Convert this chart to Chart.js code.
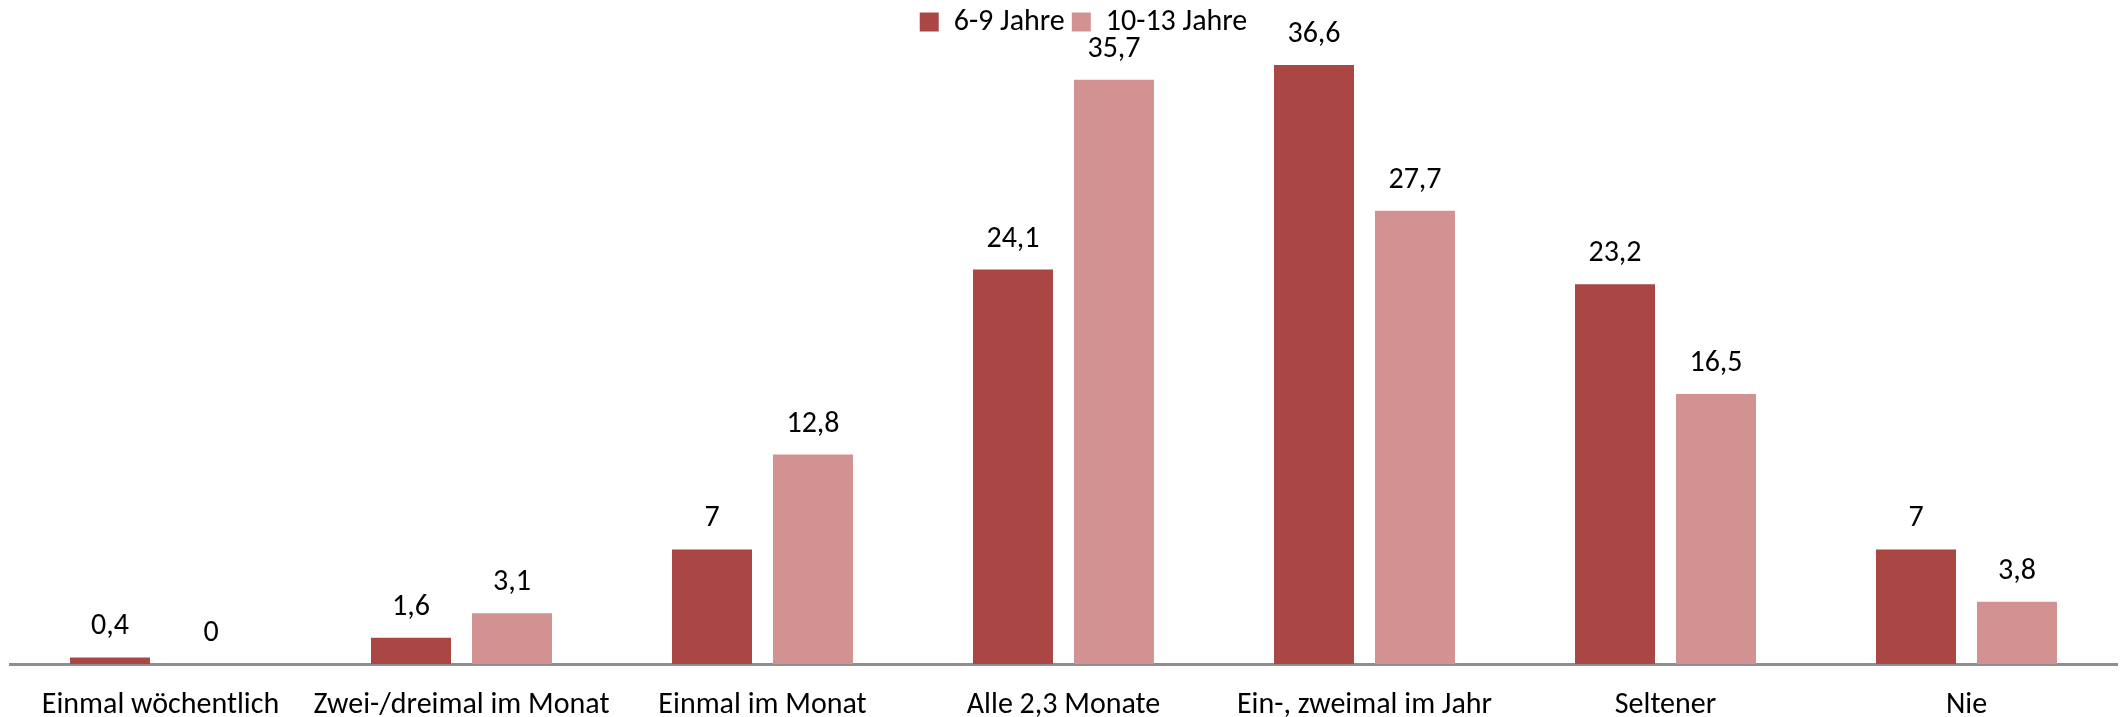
<!DOCTYPE html>
<html>
<head>
<meta charset="utf-8">
<script src="https://cdn.jsdelivr.net/npm/chart.js@4/dist/chart.umd.min.js"></script>
<style>
    html, body { margin: 0; padding: 0; background: #fff; }
    #wrap { width: 2125px; height: 717px; }
</style>
</head>
<body>
<div id="wrap"><canvas id="freqChart"></canvas></div>
<script>
// Häufigkeit nach Altersgruppe (Angaben in %)
const categories = ['Einmal wöchentlich', 'Zwei-/dreimal im Monat', 'Einmal im Monat', 'Alle 2,3 Monate', 'Ein-, zweimal im Jahr', 'Seltener', 'Nie'];
const seriesNames = ['6-9 Jahre', '10-13 Jahre'];
const kids6to9 = [0.4, 1.6, 7, 24.1, 36.6, 23.2, 7];
const kids10to13 = [0, 3.1, 12.8, 35.7, 27.7, 16.5, 3.8];

const FONT = 'Carlito, Lato, sans-serif';

// draws the value above each bar, german decimal comma
const valueLabels = {
    id: 'valueLabels',
    afterDatasetsDraw(chart) {
        const ctx = chart.ctx;
        ctx.save();
        ctx.font = '30px ' + FONT;
        ctx.fillStyle = '#000';
        ctx.textAlign = 'center';
        ctx.textBaseline = 'alphabetic';
        chart.data.datasets.forEach((ds, i) => {
            chart.getDatasetMeta(i).data.forEach((bar, j) => {
                const txt = String(ds.data[j]).replace('.', ',');
                ctx.fillText(txt, bar.x, bar.y - 23);
            });
        });
        ctx.restore();
    }
};

// legend in the original sits a bit right of centre
const legendNudge = {
    id: 'legendNudge',
    afterLayout(chart) {
        if (chart.legend) {
            chart.legend.left += 20;
            chart.legend.right += 20;
        }
    }
};

const ctx = document.getElementById('freqChart').getContext('2d');
new Chart(ctx, {
    type: 'bar',
    data: {
        labels: categories,
        datasets: [{
            label: seriesNames[0],
            data: kids6to9,
            backgroundColor: '#AA4643'
        }, {
            label: seriesNames[1],
            data: kids10to13,
            backgroundColor: '#D39292'
        }]
    },
    options: {
        responsive: true,
        maintainAspectRatio: false,
        animation: false,
        categoryPercentage: 0.671,
        barPercentage: 0.792,
        layout: {
            padding: { left: 10, right: 8, top: 0, bottom: 0 }
        },
        scales: {
            x: {
                grid: { display: false, drawTicks: false },
                border: { color: '#8e8e8e', width: 3 },
                ticks: {
                    color: '#000',
                    padding: 26,
                    maxRotation: 0,
                    font: { family: FONT, size: 30, lineHeight: 1 }
                },
                afterFit(scale) {
                    scale.height = 53;
                }
            },
            y: {
                display: false,
                min: 0,
                max: 37.7
            }
        },
        plugins: {
            legend: {
                position: 'top',
                align: 'center',
                labels: {
                    color: '#000',
                    boxWidth: 19,
                    boxHeight: 19,
                    padding: 7,
                    font: { family: FONT, size: 30, lineHeight: 1 }
                }
            },
            tooltip: { enabled: true }
        }
    },
    plugins: [valueLabels, legendNudge]
});
</script>
</body>
</html>
